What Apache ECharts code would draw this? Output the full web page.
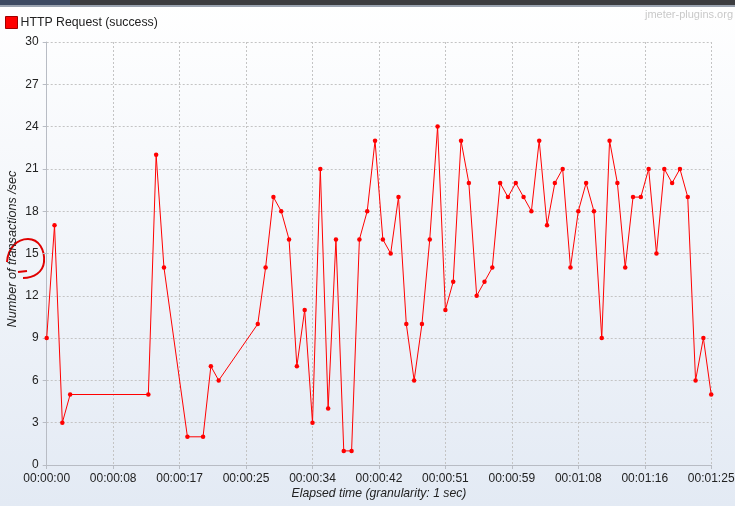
<!DOCTYPE html>
<html>
<head>
<meta charset="utf-8">
<script src="https://cdn.jsdelivr.net/npm/echarts@6/dist/echarts.min.js"></script>
<style>
  html, body { margin: 0; padding: 0; background: #ffffff; }
  #chart { width: 735px; height: 506px; }
</style>
</head>
<body>
<div id="chart"></div>
<script>
// Elapsed seconds of each sample, and transactions/sec at that second
var seconds = [0, 1, 2, 3, 13, 14, 15, 18, 20, 21, 22, 27, 28, 29, 30, 31, 32, 33, 34, 35,
  36, 37, 38, 39, 40, 41, 42, 43, 44, 45, 46, 47, 48, 49, 50, 51, 52, 53, 54, 55,
  56, 57, 58, 59, 60, 61, 62, 63, 64, 65, 66, 67, 68, 69, 70, 71, 72, 73, 74, 75,
  76, 77, 78, 79, 80, 81, 82, 83, 84, 85];
var transactions = [9, 17, 3, 5, 5, 22, 14, 2, 2, 7, 6, 10, 14, 19, 18, 16, 7, 11, 3, 21,
  4, 16, 1, 1, 16, 18, 23, 16, 15, 19, 10, 6, 10, 16, 24, 11, 13, 23, 20, 12,
  13, 14, 20, 19, 20, 19, 18, 23, 17, 20, 21, 14, 18, 20, 18, 9, 23, 20, 14, 19,
  19, 21, 15, 21, 20, 21, 19, 6, 9, 5];
var seriesName = 'HTTP Request (success)';
var xMin = 0, xMax = 85, xStep = 8.5;
var yMin = 0, yMax = 30, yStep = 3;

function pad(n) { return (n < 10 ? '0' : '') + n; }
function hms(v) {
  var s = Math.floor(v + 1e-6);
  var h = Math.floor(s / 3600), m = Math.floor((s % 3600) / 60), sec = s % 60;
  return pad(h) + ':' + pad(m) + ':' + pad(sec);
}

var points = seconds.map(function (t, i) { return [t, transactions[i]]; });

var chart = echarts.init(document.getElementById('chart'), null, { renderer: 'canvas' });
var font = '"Liberation Sans", Arial, sans-serif';
var scribble = { stroke: '#e00000', lineWidth: 2, fill: null };
chart.setOption({
  animation: false,
  backgroundColor: {
    type: 'linear', x: 0, y: 0, x2: 0, y2: 1,
    colorStops: [{ offset: 0, color: '#ffffff' }, { offset: 1, color: '#e3eaf4' }]
  },
  textStyle: { fontFamily: font },
  graphic: [
    { type: 'rect', left: 0, top: 0, shape: { width: 735, height: 5 }, style: { fill: '#3c3d40' }, silent: true },
    { type: 'rect', left: 0, top: 0, shape: { width: 70, height: 5 }, style: { fill: '#3d4a62' }, silent: true },
    { type: 'rect', left: 0, top: 5, shape: { width: 735, height: 2 }, style: { fill: '#9aa3b0' }, silent: true },
    { type: 'text', right: 2, top: 9, style: { text: 'jmeter-plugins.org', fill: '#c9c9c9', font: '11px ' + font }, silent: true },
    { type: 'bezierCurve', silent: true, shape: { x1: 7, y1: 262, cpx1: 8, cpy1: 248, cpx2: 17, cpy2: 239, x2: 28, y2: 239 }, style: scribble },
    { type: 'bezierCurve', silent: true, shape: { x1: 28, y1: 239, cpx1: 39, cpy1: 239, cpx2: 45, cpy2: 250, x2: 44, y2: 262 }, style: scribble },
    { type: 'bezierCurve', silent: true, shape: { x1: 44, y1: 262, cpx1: 43, cpy1: 272, cpx2: 34, cpy2: 278, x2: 23, y2: 278 }, style: scribble },
    { type: 'line', silent: true, shape: { x1: 18, y1: 272, x2: 27, y2: 271 }, style: scribble }
  ],
  legend: {
    left: 0, top: 11,
    itemWidth: 12, itemHeight: 12, itemGap: 4,
    icon: 'rect',
    textStyle: { fontSize: 12.3, color: '#222', fontFamily: font, padding: [0, 0, 0, -2] },
    itemStyle: { borderColor: '#a00000', borderWidth: 1 },
    data: [seriesName]
  },
  grid: { left: 46.7, right: 23.8, top: 42, bottom: 41, containLabel: false, outerBoundsMode: 'none' },
  xAxis: {
    type: 'value', min: xMin, max: xMax, interval: xStep,
    name: 'Elapsed time (granularity: 1 sec)', nameLocation: 'middle', nameGap: 23, nameMoveOverlap: false,
    nameTextStyle: { fontStyle: 'italic', fontSize: 12.2, color: '#222', fontFamily: font },
    axisLine: { lineStyle: { color: '#b8bcc4' } },
    axisTick: { show: true, length: 4, lineStyle: { color: '#b8bcc4' } },
    axisLabel: { formatter: hms, fontSize: 12, color: '#222', margin: 8, fontFamily: font },
    splitLine: { show: true, lineStyle: { color: '#c4c4c4', type: [2, 2], width: 1 } }
  },
  yAxis: {
    type: 'value', min: yMin, max: yMax, interval: yStep,
    name: 'Number of transactions /sec', nameLocation: 'middle', nameGap: 28, nameMoveOverlap: false,
    nameTextStyle: { fontStyle: 'italic', fontSize: 12.6, color: '#222', fontFamily: font, padding: [0, 0, 0, 9] },
    axisLine: { show: true, lineStyle: { color: '#b8bcc4' } },
    axisTick: { show: true, length: 4, lineStyle: { color: '#b8bcc4' } },
    axisLabel: { fontSize: 12, color: '#222', margin: 8, fontFamily: font },
    splitLine: { show: true, lineStyle: { color: '#c4c4c4', type: [2, 2], width: 1 } }
  },
  series: [{
    name: seriesName, type: 'line', data: points,
    symbol: 'circle', symbolSize: 4.5, showSymbol: true,
    lineStyle: { color: '#ff0000', width: 1 },
    itemStyle: { color: '#ff0000' },
    emphasis: { disabled: true }
  }]
});
</script>
</body>
</html>
